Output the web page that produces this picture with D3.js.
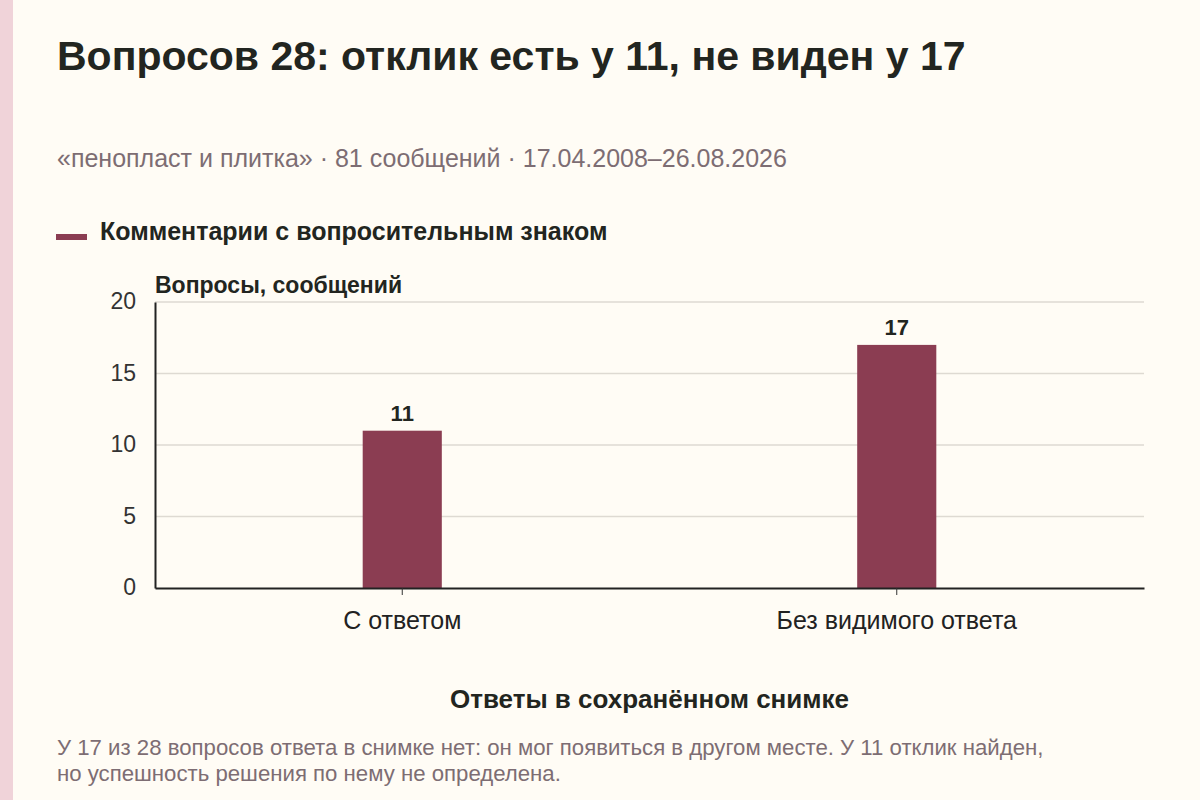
<!DOCTYPE html>
<html><head><meta charset="utf-8">
<script src="https://cdn.jsdelivr.net/npm/d3@7/dist/d3.min.js"></script>
<style>
html,body{margin:0;padding:0;background:#fffcf5;}
svg{display:block;font-family:"Liberation Sans",Arial,sans-serif;}
</style></head>
<body>
<svg id="chart" width="1200" height="800"></svg>
<script>
const categories = ["С ответом", "Без видимого ответа"];
const values = [11, 17];
const yTicks = [0, 5, 10, 15, 20];
const titleText = "Вопросов 28: отклик есть у 11, не виден у 17";
const subtitleText = "«пенопласт и плитка» · 81 сообщений · 17.04.2008–26.08.2026";
const legendText = "Комментарии с вопросительным знаком";
const yTitle = "Вопросы, сообщений";
const xTitle = "Ответы в сохранённом снимке";
const noteLines = ["У 17 из 28 вопросов ответа в снимке нет: он мог появиться в другом месте. У 11 отклик найден,",
                   "но успешность решения по нему не определена."];

const svg = d3.select("#chart");
const barColor = "#8b3d52";
const ink = "#222520";
const muted = "#7d6d73";
const ff = "Liberation Sans, Arial, sans-serif";
svg.append("rect").attr("x",0).attr("y",0).attr("width",1200).attr("height",800).attr("fill","#fffcf5");
svg.append("rect").attr("x",0).attr("y",0).attr("width",13).attr("height",800).attr("fill","#f0d3d9");

svg.append("text").attr("x",57).attr("y",70).attr("font-size",41).attr("font-weight","bold")
  .attr("fill",ink).text(titleText);
svg.append("text").attr("x",57).attr("y",167).attr("font-size",25).attr("fill",muted).text(subtitleText);

svg.append("rect").attr("x",56).attr("y",234).attr("width",31).attr("height",6).attr("fill",barColor);
svg.append("text").attr("x",100).attr("y",239.5).attr("font-size",25).attr("font-weight","bold")
  .attr("fill",ink).text(legendText);

const m = {left:155, right:1144, top:302, bottom:588};
const x = d3.scaleBand().domain(categories).range([m.left, m.right]).padding(0);
const y = d3.scaleLinear().domain([0,20]).range([m.bottom, m.top]);

// gridlines
svg.append("g").selectAll("line").data(yTicks.filter(d=>d>0)).join("line")
  .attr("x1",m.left).attr("x2",m.right).attr("y1",d=>y(d)).attr("y2",d=>y(d))
  .attr("stroke","#dedad2").attr("stroke-width",1.5);

// y axis
const yAxis = svg.append("g").attr("transform",`translate(${m.left},0)`)
  .call(d3.axisLeft(y).tickValues(yTicks).tickSize(0).tickPadding(19));
yAxis.select(".domain").attr("stroke","#222").attr("stroke-width",2);
yAxis.selectAll("text").attr("font-size",23).attr("fill","#333").attr("font-family",ff).attr("dy","0.3em");

svg.append("text").attr("x",m.left).attr("y",292.5).attr("font-size",23).attr("font-weight","bold")
  .attr("fill",ink).text(yTitle);

// bars
const bw = x.bandwidth()*0.16;
svg.append("g").selectAll("rect").data(values).join("rect")
  .attr("x",(d,i)=>x(categories[i])+x.bandwidth()/2-bw/2)
  .attr("width",bw)
  .attr("y",d=>y(d)).attr("height",d=>y(0)-y(d)).attr("fill",barColor);

svg.append("g").selectAll("text").data(values).join("text")
  .attr("x",(d,i)=>x(categories[i])+x.bandwidth()/2)
  .attr("y",d=>y(d)-10).attr("text-anchor","middle")
  .attr("font-size",22).attr("font-weight","bold").attr("fill",ink).text(d=>d);

// x axis
const xAxis = svg.append("g").attr("transform",`translate(0,${m.bottom})`)
  .call(d3.axisBottom(x).tickSize(7).tickPadding(0).tickSizeOuter(0));
xAxis.select(".domain").attr("stroke","#222").attr("stroke-width",2);
xAxis.selectAll(".tick line").attr("stroke","#333");
xAxis.selectAll("text").attr("font-size",25).attr("fill","#222").attr("font-family",ff)
  .attr("dy",null).attr("y",41);

svg.append("text").attr("x",(m.left+m.right)/2).attr("y",708).attr("text-anchor","middle")
  .attr("font-size",26).attr("font-weight","bold").attr("fill",ink).text(xTitle);

svg.append("g").selectAll("text").data(noteLines).join("text")
  .attr("x",57).attr("y",(d,i)=>755+i*26).attr("font-size",22.2).attr("fill",muted).text(d=>d);
</script>
</body></html>
